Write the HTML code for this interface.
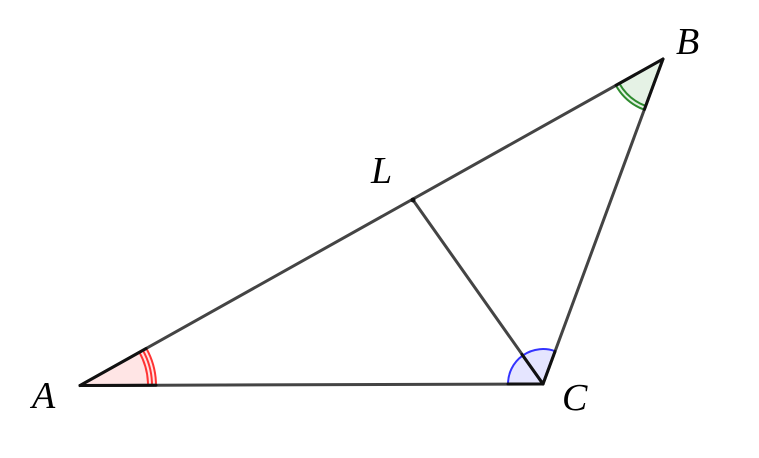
<!DOCTYPE html>
<html><head><meta charset="utf-8"><style>html,body{margin:0;padding:0;background:#fff}svg{display:block}</style></head>
<body>
<svg width="759" height="458" viewBox="0 0 759 458" xmlns="http://www.w3.org/2000/svg">
<path d="M80,385.5 L146.3,348.4 A76,76 0 0 1 156,385.5 Z" fill="#ff0000" fill-opacity="0.1"/>
<path d="M543,384 L508,384 A35,35 0 0 1 555.1,351.2 Z" fill="#0000ff" fill-opacity="0.1"/>
<path d="M663,59 L615.9,85.4 A54,54 0 0 0 644.3,109.7 Z" fill="#007f00" fill-opacity="0.1"/>
<g fill="none" stroke="#ff3333" stroke-width="2">
<path d="M139.4,352.3 A68,68 0 0 1 148,385.5"/>
<path d="M142.9,350.4 A72,72 0 0 1 152,385.5"/>
<path d="M146.3,348.4 A76,76 0 0 1 156,385.5"/>
</g>
<path d="M508,384 A35,35 0 0 1 555.1,351.2" fill="none" stroke="#3333ff" stroke-width="2"/>
<g fill="none" stroke="#2e8b2e" stroke-width="2">
<path d="M619.3,83.4 A50,50 0 0 0 645.7,105.9"/>
<path d="M615.9,85.4 A54,54 0 0 0 644.3,109.7"/>
</g>
<g stroke="#444" stroke-width="3" fill="none" stroke-linecap="round">
<line x1="80" y1="385.5" x2="663" y2="59"/>
<line x1="80" y1="385.5" x2="543" y2="384"/>
<line x1="543" y1="384" x2="663" y2="59"/>
<line x1="413" y1="200" x2="543" y2="384"/>
</g>
<g stroke="#111" stroke-width="3" stroke-linecap="round">
<line x1="80" y1="385.5" x2="146" y2="348.6"/>
<line x1="80" y1="385.5" x2="156" y2="385.3"/>
<line x1="543" y1="384" x2="508" y2="384"/>
<line x1="543" y1="384" x2="555" y2="351.5"/>
<line x1="543" y1="384" x2="522" y2="354.5"/>
<line x1="663" y1="59" x2="616" y2="85.3"/>
<line x1="663" y1="59" x2="644.4" y2="109.5"/>
</g>
<circle cx="413" cy="200" r="2.5" fill="#111"/>
<g font-family="'Liberation Serif',serif" font-style="italic" font-size="38" fill="#000">
<text x="32" y="408">A</text>
<text x="676" y="54">B</text>
<text x="562" y="410">C</text>
<text x="371" y="183">L</text>
</g>
</svg>
</body></html>
